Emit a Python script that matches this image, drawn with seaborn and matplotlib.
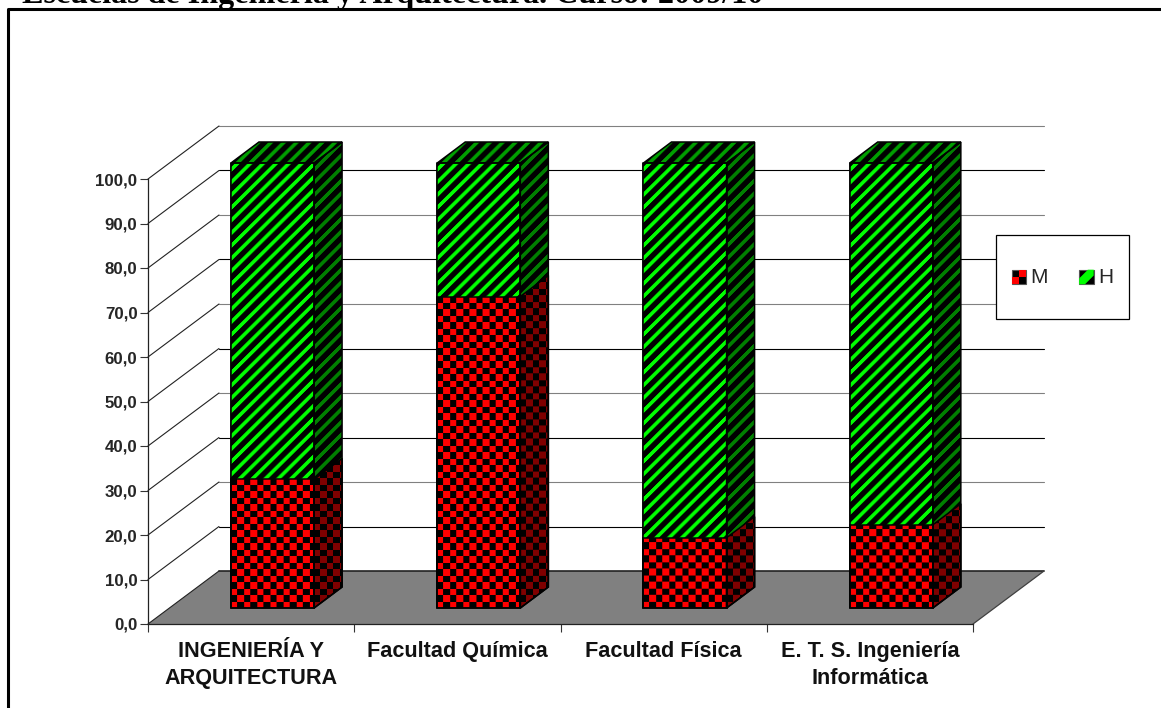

import numpy as np
import matplotlib
matplotlib.use("Agg")
import matplotlib.pyplot as plt
from matplotlib.lines import Line2D
from matplotlib.patches import Patch, Polygon, Rectangle
from matplotlib.legend_handler import HandlerBase
import seaborn as sns

# ----- data -----
categories = ["INGENIERÍA Y\nARQUITECTURA", "Facultad Química", "Facultad Física",
              "E. T. S. Ingeniería\nInformática"]
mujeres = [28.9, 70.0, 15.8, 18.7]
hombres = [71.1, 30.0, 84.2, 81.3]
y_ticks = [0, 10, 20, 30, 40, 50, 60, 70, 80, 90, 100]
y_labels = ["0,0", "10,0", "20,0", "30,0", "40,0", "50,0", "60,0", "70,0", "80,0", "90,0", "100,0"]
title = "Escuelas de Ingeniería y Arquitectura. Curso: 2009/10"

W, H = 1161, 708
X0, X1, Y0, Y100 = 148, 973, 624, 179     # plot box in pixels
PX_X = (X1 - X0) / 4
PX_Y = (Y0 - Y100) / 100
WALL_DX, WALL_DY = 71, 53                 # depth of the chart floor
BAR_SHIFT_X, BAR_SHIFT_Y = 21.4, 16       # bars stand inside the floor
BAR_DX, BAR_DY = 28, 21                   # depth of one bar


def box(x, y):
    return [x / W, 1 - y / H, (X1 - X0) / W, (Y0 - Y100) / H]


def checker(xx, yy, on, off, cell=6.5):
    mask = (np.floor(xx / cell) + np.floor(yy / cell)) % 2 == 0
    img = np.zeros(xx.shape + (3,))
    img[mask] = on
    img[~mask] = off
    return img


def stripes(xx, yy, on, off, period=12.7, frac=0.4):
    s = ((xx - yy) / period) % 1
    k = np.clip((frac - np.abs(s - 0.5) * 2) * period / 2 + 0.5, 0, 1)[..., None]
    return np.array(on) * k + np.array(off) * (1 - k)


def fill_face(ax, verts, painter, on, off):
    # paint a pattern in pixel steps and clip it to one face of a bar
    verts = np.array(verts)
    xmin, ymin = verts.min(axis=0)
    xmax, ymax = verts.max(axis=0)
    nx = max(int(round((xmax - xmin) * PX_X)), 1)
    ny = max(int(round((ymax - ymin) * PX_Y)), 1)
    xx, yy = np.meshgrid(np.arange(nx) + 0.5, ny - np.arange(ny) - 0.5)
    img = painter(xx, yy, on, off)
    face = Polygon(verts, closed=True, facecolor="none", edgecolor="black", linewidth=1.1,
                   zorder=2, clip_on=False)
    ax.add_patch(face)
    im = ax.imshow(img, extent=[xmin, xmax, ymin, ymax], aspect="auto",
                   interpolation="bilinear", zorder=1)
    # top faces stick out of the axes box, so only the face itself may clip
    im.set_clip_box(ax.figure.bbox)
    im.set_clip_path(face)


class KeyHandler(HandlerBase):
    def __init__(self, kind):
        super().__init__()
        self.kind = kind

    def create_artists(self, legend, orig_handle, xdescent, ydescent, width, height, fontsize, trans):
        # the handle box is tall to set the frame height, the key is a small square in its middle
        x, y = -xdescent, -ydescent + (height - width) / 2
        w = width / 2
        back = Rectangle((x, y), width, width, facecolor="black", edgecolor="#555555",
                         linewidth=0.8, transform=trans)
        if self.kind == "M":
            a = Rectangle((x + w, y + w), w, w, facecolor="#ff0000", edgecolor="none", transform=trans)
            b = Rectangle((x, y), w, w, facecolor="#ff0000", edgecolor="none", transform=trans)
            return [back, a, b]
        s = Polygon([(x, y), (x + width * 0.4, y), (x + width, y + width * 0.6),
                     (x + width, y + width), (x + width * 0.6, y + width), (x, y + width * 0.4)],
                    closed=True, facecolor="#00ff00", edgecolor="none", transform=trans)
        return [back, s]


sns.set_style("white")
plt.rcParams["font.family"] = ["Liberation Sans", "DejaVu Sans"]

fig = plt.figure(figsize=(W / 100, H / 100), dpi=100)

# page frame and the cut off heading
fig.add_artist(Line2D([8 / W, 8 / W, 1], [0, 1 - 9 / H, 1 - 9 / H], color="black", linewidth=2.2))
fig.text(22 / W, 1 - 3.5 / H, title, family="Liberation Serif", fontweight="bold", fontsize=23.1,
         va="baseline", ha="left", color="black")

# ----- walls, floor and axes -----
ax = fig.add_axes(box(X0, Y0))
ax.set_xlim(-0.5, 3.5)
ax.set_ylim(0, 100)
ax.patch.set_alpha(0)
wall_x = WALL_DX / PX_X
wall_y = WALL_DY / PX_Y

floor = Polygon([(-0.5, 0), (3.5, 0), (3.5 + wall_x, wall_y), (-0.5 + wall_x, wall_y)],
                closed=True, facecolor="#808080", edgecolor="none", clip_on=False, zorder=1)
ax.add_patch(floor)
ax.plot([-0.5 + wall_x, 3.5 + wall_x], [wall_y, wall_y], color="#222222", linewidth=1.2, clip_on=False, zorder=1.5)
ax.plot([3.5, 3.5 + wall_x], [0, wall_y], color="#404040", linewidth=0.9, clip_on=False, zorder=1.5)
for i, t in enumerate(y_ticks):
    ax.plot([-0.5, -0.5 + wall_x], [t, t + wall_y], color="#222222", linewidth=0.8, clip_on=False, zorder=1.5)
    if t > 0:
        shade = "#808080" if i % 2 == 0 else "black"
        ax.plot([-0.5 + wall_x, 3.5 + wall_x], [t + wall_y, t + wall_y], color=shade,
                linewidth=0.8, clip_on=False, zorder=1.2)

sns.despine(ax=ax, top=True, right=True)
for side in ["left", "bottom"]:
    ax.spines[side].set_linewidth(0.9)
    ax.spines[side].set_color("#222222")
    ax.spines[side].set_zorder(3)
ax.set_yticks(y_ticks)
ax.set_yticklabels(y_labels, fontsize=12.2, fontweight="bold")
ax.set_xticks(np.arange(4))
ax.set_xticklabels(categories, fontsize=15.6, fontweight="bold", linespacing=1.4, color="#111111")
ax.set_xticks(np.arange(5) - 0.5, minor=True)
ax.tick_params(axis="x", which="major", length=0, pad=12)
ax.tick_params(axis="x", which="minor", length=6, width=0.8, color="#333333", bottom=True)
ax.tick_params(axis="y", length=6, width=0.8, color="#333333", pad=1.5, left=True)

# ----- bars, in their own axes moved into the floor -----
ax_bar = fig.add_axes([(X0 + BAR_SHIFT_X) / W, 1 - (Y0 - BAR_SHIFT_Y) / H,
                       (X1 - X0) / W, (Y0 - Y100) / H])
ax_bar.patch.set_alpha(0)
totales = [m + h for m, h in zip(mujeres, hombres)]
sns.barplot(x=categories, y=totales, color="#00ff00", saturation=1, width=0.403,
            edgecolor="black", linewidth=1.1, ax=ax_bar)
sns.barplot(x=categories, y=mujeres, color="#ff0000", saturation=1, width=0.403,
            edgecolor="black", linewidth=1.1, ax=ax_bar)
bars = list(ax_bar.patches)
verdes, rojas = bars[:4], bars[4:8]
dx = BAR_DX / PX_X
dy = BAR_DY / PX_Y

for rect in verdes:
    x0, x1, top = rect.get_x(), rect.get_x() + rect.get_width(), rect.get_height()
    fill_face(ax_bar, [(x0, 0), (x1, 0), (x1, top), (x0, top)], stripes, (0, 1, 0), (0, 0, 0))
    fill_face(ax_bar, [(x1, 0), (x1 + dx, dy), (x1 + dx, top + dy), (x1, top)], stripes,
              (0, 0.5, 0), (0, 0, 0))
    fill_face(ax_bar, [(x0, top), (x1, top), (x1 + dx, top + dy), (x0 + dx, top + dy)], stripes,
              (0, 0.62, 0), (0, 0, 0))
    rect.set_facecolor("none")

for rect in rojas:
    x0, x1, top = rect.get_x(), rect.get_x() + rect.get_width(), rect.get_height()
    fill_face(ax_bar, [(x0, 0), (x1, 0), (x1, top), (x0, top)], checker, (1, 0, 0), (0, 0, 0))
    fill_face(ax_bar, [(x1, 0), (x1 + dx, dy), (x1 + dx, top + dy), (x1, top)], checker,
              (0.5, 0, 0), (0, 0, 0))
    rect.set_facecolor("none")

ax_bar.set_xlim(-0.5, 3.5)
ax_bar.set_ylim(0, 100)
ax_bar.axis("off")

# ----- legend -----
key_m = Patch(label="M")
key_h = Patch(label="H")
leg = ax_bar.legend(handles=[key_m, key_h], handler_map={key_m: KeyHandler("M"), key_h: KeyHandler("H")},
                    ncol=2, loc="center left", bbox_to_anchor=(996 / W, 1 - 277 / H),
                    bbox_transform=fig.transFigure, frameon=True, fancybox=False,
                    edgecolor="black", facecolor="white", framealpha=1, borderpad=0.75,
                    borderaxespad=0, handlelength=0.7, handleheight=3.5, handletextpad=0.2,
                    columnspacing=1.5, prop={"size": 15})
leg.get_frame().set_linewidth(0.9)
leg.set_zorder(10)

fig.savefig("out.png", dpi=100)
